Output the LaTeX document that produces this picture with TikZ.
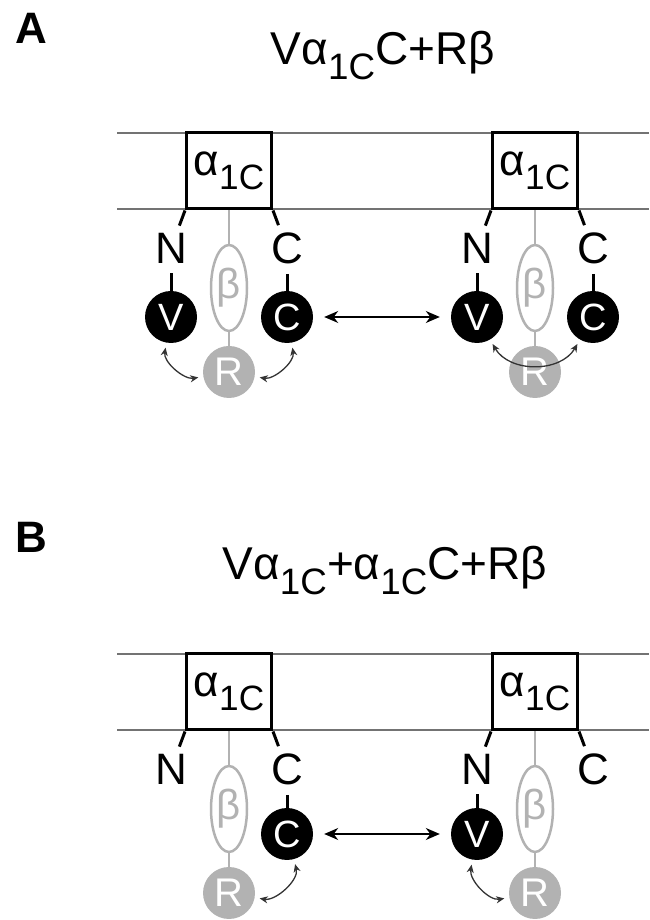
\documentclass[tikz,border=0pt]{standalone}
\usepackage{fontspec}
\usepackage{graphicx}
\setmainfont{Liberation Sans}
\usetikzlibrary{arrows.meta,shapes.geometric}

\definecolor{betagray}{gray}{0.70}
\definecolor{linegray}{gray}{0.45}
\definecolor{arrowgray}{gray}{0.2}

% alpha with its subscript
\newcommand{\aone}{α\raisebox{-0.32em}{\scalebox{0.8}{1C}}}

\tikzset{
    membrane/.style={draw=linegray, line width=1.2pt},
    chanbox/.style={draw, line width=3pt, minimum width=85pt, minimum height=76pt, inner sep=0pt, font=\fontsize{44}{44}\selectfont},
    termlabel/.style={inner sep=0pt, font=\fontsize{44}{44}\selectfont},
    blackball/.style={circle, fill=black, minimum size=52pt, inner sep=0pt, text=white, font=\fontsize{38}{38}\selectfont},
    grayball/.style={circle, fill=betagray, minimum size=52pt, inner sep=0pt, text=white, font=\fontsize{40}{40}\selectfont},
    betanode/.style={ellipse, draw=betagray, line width=2.5pt, minimum width=36pt, minimum height=86pt, inner sep=0pt, text=betagray, font=\fontsize{42}{42}\selectfont},
    stub/.style={line width=3pt},
    graystub/.style={draw=betagray, line width=2.5pt},
    bigarrow/.style={{Stealth[length=14pt,width=12pt]}-{Stealth[length=14pt,width=12pt]}, line width=1.3pt, shorten <=11pt, shorten >=11pt},
    smallarrow/.style={{Stealth[length=8pt,width=7pt]}-{Stealth[length=8pt,width=7pt]}, draw=arrowgray, line width=1.3pt, shorten <=5pt, shorten >=5pt},
    titletext/.style={anchor=base, inner sep=0pt, font=\fontsize{46}{46}\selectfont},
    panellabel/.style={inner sep=0pt, font=\bfseries\fontsize{44}{44}\selectfont}
}

\begin{document}
\begin{tikzpicture}[x=1pt, y=1pt]
    \useasboundingbox (0,0) rectangle (649,920);

    % panel labels and titles
        \node[panellabel] (alabel) at (31,892) {A};
        \node[panellabel] (blabel) at (31,383) {B};
        \node[titletext] (atitle) at (383,855) {V\aone C+Rβ};
        \node[titletext] (btitle) at (385,340) {V\aone+\aone C+Rβ};

    % membranes
        \foreach \yb in {711,787,190,266}
            \draw[membrane] (117,\yb) -- (649,\yb);

    % channels with beta subunit
        \foreach \ch/\cx/\yb in {al/229/711, ar/535/711, bl/229/190, br/535/190}{
            \node[chanbox] (\ch-box) at (\cx,\yb+38) {\aone};
            \node[termlabel] (\ch-N) at (\cx-58,\yb-39) {N};
            \node[termlabel] (\ch-Cterm) at (\cx+58,\yb-39) {C};
            \node[betanode] (\ch-beta) at (\cx,\yb-79) {β};
            \node[grayball] (\ch-R) at (\cx,\yb-163) {R};
            \draw[stub, shorten >=7.5pt] (\ch-box.south west) -- (\ch-N);
            \draw[stub, shorten >=7.5pt] (\ch-box.south east) -- (\ch-Cterm);
            \draw[graystub] (\ch-box.south) -- (\ch-beta.north);
            \draw[graystub] (\ch-beta.south) -- (\ch-R.north);
        }

    % V and C domains
        \node[blackball] (al-V) at (171,603) {V};
        \node[blackball] (al-C) at (287,603) {C};
        \node[blackball] (ar-V) at (477,603) {V};
        \node[blackball] (ar-C) at (593,603) {C};
        \node[blackball] (bl-C) at (287,86) {C};
        \node[blackball] (br-V) at (477,86) {V};

        \draw[stub, shorten <=10pt] (al-N) -- (al-V);
        \draw[stub, shorten <=10pt] (al-Cterm) -- (al-C);
        \draw[stub, shorten <=10pt] (ar-N) -- (ar-V);
        \draw[stub, shorten <=10pt] (ar-Cterm) -- (ar-C);
        \draw[stub, shorten <=10pt] (bl-Cterm) -- (bl-C);
        \draw[stub, shorten <=10pt] (br-N) -- (br-V);

    % exchange between channels
        \draw[bigarrow] (al-C) -- (ar-V);
        \draw[bigarrow] (bl-C) -- (br-V);

    % binding of R
        \draw[smallarrow] (al-V) to[out=-100, in=190] (al-R);
        \draw[smallarrow] (al-R) to[out=-10, in=-80] (al-C);
        \draw[smallarrow] (ar-V) to[out=-60, in=-120, looseness=1.1] (ar-C);
        \draw[smallarrow] (bl-R) to[out=-10, in=-75] (bl-C);
        \draw[smallarrow] (br-V) to[out=-100, in=190] (br-R);

\end{tikzpicture}
\end{document}
